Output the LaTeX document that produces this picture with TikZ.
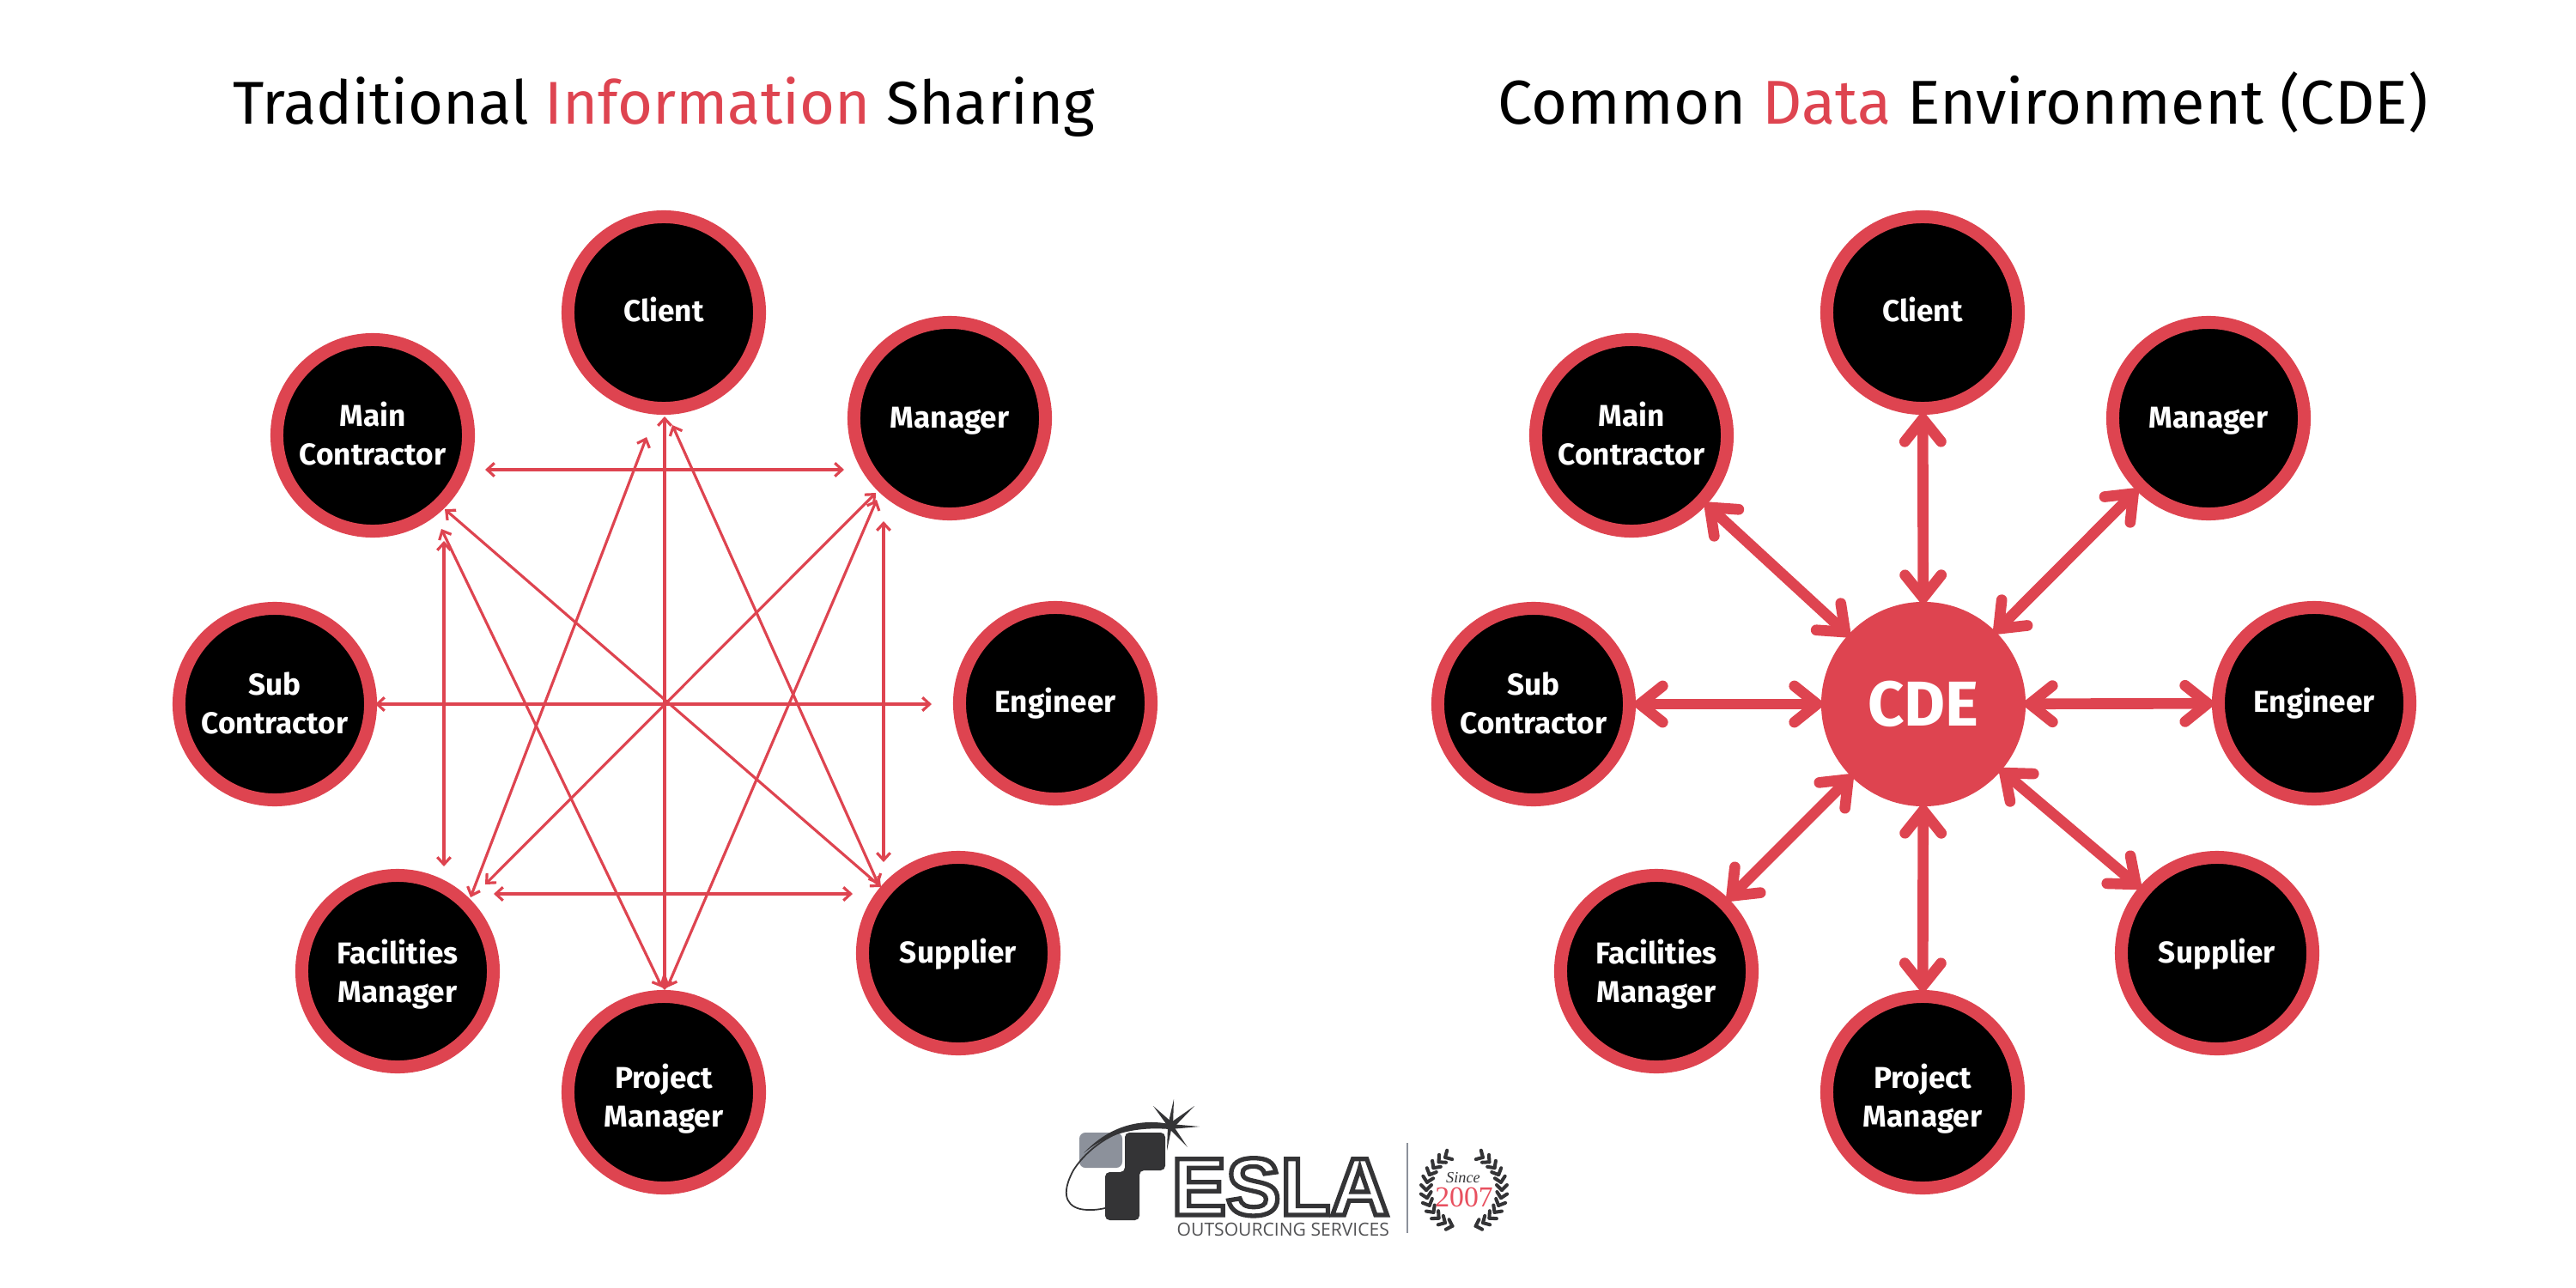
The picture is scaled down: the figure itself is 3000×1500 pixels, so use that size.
\documentclass[tikz,border=0pt]{standalone}
\usepackage{fontspec}
\setmainfont{Fira Sans}
\newfontfamily\logofont{Liberation Sans}
\newfontfamily\tagfont{Open Sans}
\newfontfamily\yearfont{Liberation Serif}
\usetikzlibrary{arrows.meta}
\definecolor{cdered}  {RGB}{222, 68,  80}
\definecolor{logodark}{RGB}{52,  52,  54}
\definecolor{logogray}{RGB}{140, 145, 155}
\definecolor{yearred} {RGB}{232, 80,  95}

\begin{document}
\begin{tikzpicture}[
  x=0.01cm, y=-0.01cm,
  role/.style={circle, fill=black, draw=cdered, line width=15*0.2845pt,
    minimum size=2.23cm, inner sep=0pt, text=white, align=center,
    font=\fontsize{10}{12.8}\selectfont\bfseries},
  hubnode/.style={circle, fill=cdered, minimum size=2.38cm, inner sep=0pt,
    outer sep=0pt, text=white, font=\fontsize{21}{24}\selectfont\bfseries},
  headline/.style={anchor=base, inner sep=0pt, font=\selectfont},
  thinlink/.style={cdered, line width=0.9pt,
    {Straight Barb[length=2.4pt, width=4.4pt]}-{Straight Barb[length=2.4pt, width=4.4pt]}},
  hublink/.style={cdered, line width=3.6pt, shorten >=-1.5pt, shorten <=-1.5pt,
    {Straight Barb[length=7.5pt, width=12pt, line cap=round]}-{Straight Barb[length=7.5pt, width=12pt, line cap=round]}},
  leaf/.style={logodark, line width=1.15pt, line cap=round},
]

\useasboundingbox (0,0) rectangle (3000,1500);

% ── Titles ──────────────────────────────────────────────────
\node[headline, font=\fontsize{20}{24}\selectfont] (lefttitle) at (773,145)
  {Traditional \textcolor{cdered}{Information} Sharing};
\node[headline, font=\fontsize{20.5}{24}\selectfont] (righttitle) at (2286,145)
  {Common \textcolor{cdered}{Data} Environment (CDE)};

% ════════════════════════════════════════════════════════════
%  Left ring
% ════════════════════════════════════════════════════════════
\node[role, text height=5.7pt, text depth=0pt] (client)     at (773,364)  {Client};
\node[role, text height=6.8pt, text depth=0pt] (manager)    at (1106,487) {Manager};
\node[role, text height=5.7pt, text depth=0pt] (engineer)   at (1229,819) {Engineer};
\node[role, text height=6.8pt, text depth=0pt] (supplier)   at (1116,1110) {Supplier};
\node[role, text height=22.8pt, text depth=0pt] (project)    at (773,1272) {Project\\Manager};
\node[role, text height=21pt, text depth=0pt] (facilities) at (463,1131) {Facilities\\Manager};
\node[role, text height=19.4pt, text depth=0pt] (sub)        at (320,820)  {Sub\\Contractor};
\node[role, text height=19.4pt, text depth=0pt] (main)       at (434,507)  {Main\\Contractor};

% ── Free ends of the thin arrows ────────────────────────────
\coordinate (mainH)    at (565,547);
\coordinate (managerH) at (983,547);
\coordinate (facH)     at (575,1041);
\coordinate (supH)     at (993,1041);
\coordinate (clientV)  at (774,485);
\coordinate (projectV) at (774,1153);
\coordinate (subH)     at (437,820);
\coordinate (engH)     at (1085,820);
\coordinate (mainV)    at (517,630);
\coordinate (facV)     at (517,1009);
\coordinate (managerV) at (1029,607);
\coordinate (supV)     at (1029,1004);
\coordinate (mainD)    at (518,593);
\coordinate (supD)     at (1026,1033);
\coordinate (managerD) at (1020,574);
\coordinate (facD)     at (565,1030);
\coordinate (clientR)  at (783,495);
\coordinate (supR)     at (1023,1030);
\coordinate (mainP)    at (514,616);
\coordinate (projectL) at (771,1150);
\coordinate (clientL)  at (753,509);
\coordinate (facR)     at (548,1045);
\coordinate (managerP) at (1021,582);
\coordinate (projectR) at (777,1150);

% ── Thin arrows ─────────────────────────────────────────────
\draw[thinlink] (mainH) -- (managerH);
\draw[thinlink] (facH) -- (supH);
\draw[thinlink] (clientV) -- (projectV);
\draw[thinlink] (subH) -- (engH);
\draw[thinlink] (mainV) -- (facV);
\draw[thinlink] (managerV) -- (supV);
\draw[thinlink] (mainD) -- (supD);
\draw[thinlink] (managerD) -- (facD);
\draw[thinlink] (clientR) -- (supR);
\draw[thinlink] (mainP) -- (projectL);
\draw[thinlink] (clientL) -- (facR);
\draw[thinlink] (managerP) -- (projectR);

% ════════════════════════════════════════════════════════════
%  Right ring
% ════════════════════════════════════════════════════════════
\node[hubnode] (cde) at (2240,820) {CDE};

\node[role, text height=5.7pt, text depth=0pt] (rclient)     at (2239,364)  {Client};
\node[role, text height=6.8pt, text depth=0pt] (rmanager)    at (2572,487)  {Manager};
\node[role, text height=5.7pt, text depth=0pt] (rengineer)   at (2695,819)  {Engineer};
\node[role, text height=6.8pt, text depth=0pt] (rsupplier)   at (2582,1110) {Supplier};
\node[role, text height=22.8pt, text depth=0pt] (rproject)    at (2239,1272) {Project\\Manager};
\node[role, text height=21pt, text depth=0pt] (rfacilities) at (1929,1131) {Facilities\\Manager};
\node[role, text height=19.4pt, text depth=0pt] (rsub)        at (1786,820)  {Sub\\Contractor};
\node[role, text height=19.4pt, text depth=0pt] (rmain)       at (1900,507)  {Main\\Contractor};

% ── Thick arrows ────────────────────────────────────────────
\draw[hublink] (cde) -- (rclient);
\draw[hublink] (cde) -- (rmanager);
\draw[hublink] (cde) -- (rengineer);
\draw[hublink] (cde) -- (rsupplier);
\draw[hublink] (cde) -- (rproject);
\draw[hublink] (cde) -- (rfacilities);
\draw[hublink] (cde) -- (rsub);
\draw[hublink] (cde) -- (rmain);

% ════════════════════════════════════════════════════════════
%  Logo
% ════════════════════════════════════════════════════════════
\fill[logogray, rounded corners=2pt] (1257,1319) rectangle (1307,1360);

% ── Swoosh and spark ────────────────────────────────────────
\draw[logodark, line width=0.5pt]
  (1362,1312) .. controls (1320,1303) and (1272,1328) .. (1250,1363)
  .. controls (1238,1385) and (1238,1403) .. (1258,1408)
  .. controls (1268,1410) and (1278,1409) .. (1287,1407);
\fill[logodark] (1362,1309) .. controls (1325,1302) and (1290,1313) .. (1262,1343)
  .. controls (1290,1319) and (1325,1312) .. (1362,1315) -- cycle;
\fill[logodark] (1367,1280) -- (1366,1311) -- (1360,1311) -- cycle;
\fill[logodark] (1343,1288) -- (1366,1308) -- (1361,1313) -- cycle;
\fill[logodark] (1391,1288) -- (1366,1314) -- (1361,1309) -- cycle;
\fill[logodark] (1397,1312) -- (1363,1315) -- (1363,1309) -- cycle;
\fill[logodark] (1383,1336) -- (1360,1313) -- (1365,1309) -- cycle;
\fill[logodark] (1359,1340) -- (1360,1311) -- (1365,1311) -- cycle;

\fill[logodark, rounded corners=1.5pt]
  (1310,1319) -- (1357,1319) -- (1357,1363) -- (1327,1363) -- (1327,1421)
  -- (1287,1421) -- (1287,1365) -- (1310,1365) -- cycle;

% ── Wordmark ────────────────────────────────────────────────
\node[anchor=base west, inner sep=0pt, text=logodark, text height=18pt, text depth=0pt,
  font=\fontsize{27}{27}\selectfont\logofont\bfseries] (wordmark) at (1364,1415)
  {\special{pdf:code 1 Tr 1.5 w 0.204 0.204 0.212 RG}ESLA\special{pdf:code 0 Tr}};
\node[anchor=base west, inner sep=0pt, text=logodark!85, text height=5pt, text depth=0pt,
  font=\fontsize{6}{7}\selectfont\tagfont] (tagline) at (1370,1439)
  {OUTSOURCING SERVICES};
\draw[logogray, line width=0.4pt] (1639,1331) -- (1639,1436);

% ── Laurel ──────────────────────────────────────────────────
\foreach \ang in {120,132,...,252}{
  \draw[leaf, shift={(1705,1386)}, rotate=\ang] (44,0) -- (38,6);
  \draw[leaf, shift={(1705,1386)}, rotate=\ang] (44,0) -- (50,6);
}
\foreach \ang in {-72,-60,...,60}{
  \draw[leaf, shift={(1705,1386)}, rotate=\ang] (44,0) -- (38,-6);
  \draw[leaf, shift={(1705,1386)}, rotate=\ang] (44,0) -- (50,-6);
}
\node[inner sep=0pt, text=logodark,
  font=\fontsize{5.2}{6}\selectfont\yearfont\itshape] (since) at (1704,1372) {Since};
\node[inner sep=0pt, text=yearred,
  font=\fontsize{9.6}{10}\selectfont\yearfont] (year) at (1705,1394) {2007};

\end{tikzpicture}
\end{document}
